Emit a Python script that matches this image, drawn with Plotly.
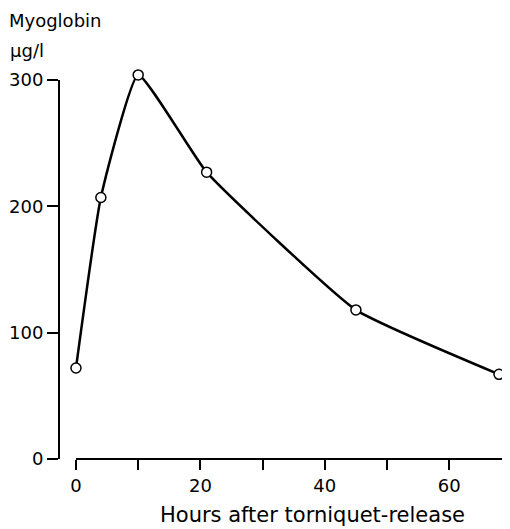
import plotly.graph_objects as go

hours = [0, 4, 10, 21, 45, 68]
myoglobin = [72, 207, 304, 227, 118, 67]

x_ticks = [0, 10, 20, 30, 40, 50, 60]
x_ticktext = ["0", "", "20", "", "40", "", "60"]
y_ticks = [0, 100, 200, 300]

FONT = "DejaVu Sans, sans-serif"

# the page body adds an 8 px margin, so the figure is 8 px smaller
OFF = 8
W, H = 510 - OFF, 529 - OFF
L, R, T, B = 59 - OFF, 0, 61 - OFF, 529 - 459
PW, PH = W - L - R, H - T - B
X_RANGE = [-2.73, 69.77]
Y_RANGE = [0, 315]


def px_x(px):
    return (px - OFF - L) / PW


def px_y(py):
    return (H - B - (py - OFF)) / PH


fig = go.Figure()
fig.add_trace(go.Scatter(
    x=hours, y=myoglobin,
    mode="lines+markers",
    line=dict(color="black", width=2.5, shape="spline", smoothing=0.4),
    marker=dict(symbol="circle", size=10, color="white", line=dict(color="black", width=1.5)),
    cliponaxis=False,
    showlegend=False,
))

# axis lines (offset as in the original)
fig.add_shape(type="line", xref="paper", yref="y", x0=0, x1=0, y0=0, y1=300,
              line=dict(color="black", width=2))
fig.add_shape(type="line", xref="x", yref="paper", x0=0, x1=X_RANGE[1], y0=0, y1=0,
              line=dict(color="black", width=2))

fig.update_layout(
    width=W, height=H,
    margin=dict(l=L, r=R, t=T, b=B),
    plot_bgcolor="white", paper_bgcolor="white",
    font=dict(family=FONT, size=18, color="black"),
    xaxis=dict(
        range=X_RANGE, automargin=False,
        showline=False, ticks="outside", ticklen=10, tickwidth=2, tickcolor="black",
        tickvals=x_ticks, ticktext=x_ticktext,
        showgrid=False, zeroline=False,
    ),
    yaxis=dict(
        range=Y_RANGE, automargin=False,
        showline=False, ticks="outside", ticklen=11, tickwidth=2, tickcolor="black",
        tickvals=y_ticks, showgrid=False, zeroline=False,
    ),
    annotations=[
        dict(text="Myoglobin", xref="paper", yref="paper", x=px_x(7), y=px_y(20),
             xanchor="left", yanchor="middle", showarrow=False, font=dict(size=18)),
        dict(text="µg/l", xref="paper", yref="paper", x=px_x(8), y=px_y(50),
             xanchor="left", yanchor="middle", showarrow=False, font=dict(size=18)),
        dict(text="Hours after torniquet-release", xref="paper", yref="paper",
             x=px_x(312), y=px_y(515), xanchor="center", yanchor="middle",
             showarrow=False, font=dict(size=21)),
    ],
)

fig.write_html("out.html")
